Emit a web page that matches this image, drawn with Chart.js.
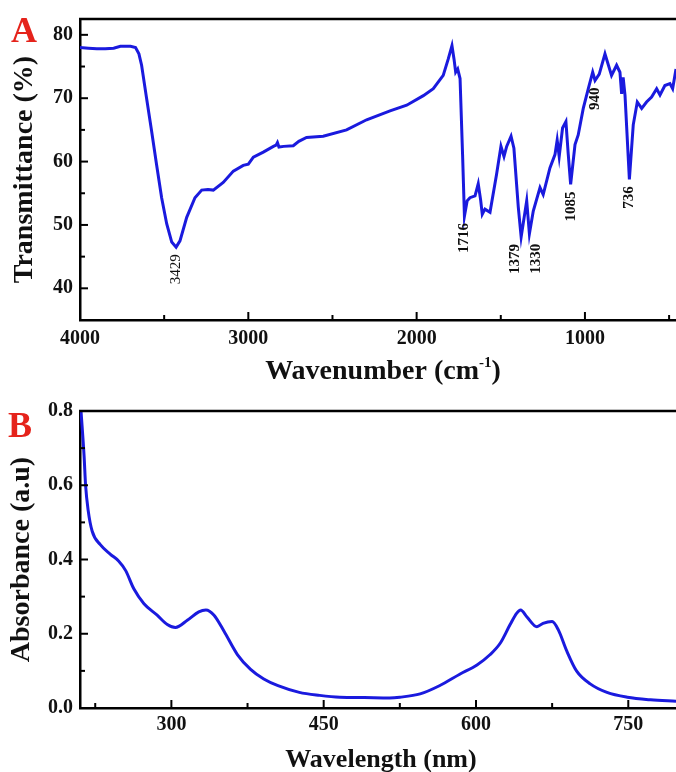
<!DOCTYPE html>
<html>
<head>
<meta charset="utf-8">
<script src="https://cdn.jsdelivr.net/npm/chart.js@4.4.1/dist/chart.umd.min.js"></script>
<style>
  html, body { margin: 0; padding: 0; background: #fff; }
  #wrapA { position: absolute; left: 0; top: 0; width: 676px; height: 392px; }
  #wrapB { position: absolute; left: 0; top: 392px; width: 676px; height: 380px; }
</style>
</head>
<body>
<div id="wrapA"><canvas id="chartA"></canvas></div>
<div id="wrapB"><canvas id="chartB"></canvas></div>
<script>
// ---------- FTIR data (panel A) ----------
const irWavenumber = [
  4000, 3950, 3900, 3850, 3800, 3760, 3700, 3670, 3650, 3634, 3604, 3574, 3545, 3515,
  3485, 3455, 3429, 3406, 3366, 3317, 3277, 3240, 3208, 3149, 3089, 3030, 3000, 2970,
  2911, 2851, 2835, 2827, 2818, 2790, 2733, 2700, 2654, 2555, 2416, 2297, 2158, 2059,
  1960, 1901, 1842, 1812, 1790, 1778, 1768, 1756, 1742, 1727, 1716, 1700, 1683, 1653,
  1634, 1620, 1610, 1594, 1564, 1525, 1499, 1481, 1465, 1439, 1422, 1396, 1379, 1346,
  1330, 1307, 1267, 1248, 1208, 1178, 1165, 1153, 1133, 1113, 1099, 1085, 1059, 1040,
  1010, 980, 954, 940, 915, 881, 842, 812, 792, 782, 773, 762, 736, 713, 689, 663,
  634, 604, 574, 554, 525, 495, 479, 459
];
const irTransmittance = [
  78.0, 77.9, 77.8, 77.8, 77.9, 78.2, 78.2, 78.0, 77.0, 75.2, 69.9, 64.7, 59.5, 54.3,
  50.2, 47.3, 46.5, 47.5, 51.2, 54.3, 55.5, 55.6, 55.5, 56.7, 58.5, 59.4, 59.6, 60.7,
  61.5, 62.4, 62.6, 63.0, 62.3, 62.4, 62.5, 63.2, 63.8, 64.0, 65.0, 66.6, 68.0, 68.9,
  70.4, 71.5, 73.6, 76.2, 78.3, 76.2, 74.1, 74.6, 73.1, 61.1, 51.4, 53.8, 54.3, 54.6,
  56.5, 54.0, 51.7, 52.5, 52.0, 58.0, 62.4, 60.8, 62.4, 64.0, 62.1, 52.8, 48.1, 53.8,
  48.6, 52.2, 55.9, 54.8, 59.0, 61.1, 63.4, 60.8, 65.3, 66.3, 61.1, 56.4, 62.7, 64.2,
  68.4, 71.5, 74.1, 72.8, 73.8, 77.0, 73.6, 75.2, 74.1, 70.7, 73.3, 70.5, 57.2, 65.8,
  69.4, 68.4, 69.4, 70.2, 71.5, 70.5, 72.0, 72.3, 71.5, 74.6
];
const irPeaks = [3429, 1716, 1379, 1330, 1085, 940, 736];
const irXTicks = [1000, 2000, 3000, 4000];
const irXMinor = [500, 1500, 2500, 3500];
const irYTicks = [40, 50, 60, 70, 80];
const irYMinor = [45, 55, 65, 75];

// ---------- UV-Vis data (panel B) ----------
const uvWavelength = [
  210, 211, 214, 215.5, 218, 222, 230, 240, 248, 255, 263, 273, 286, 296, 304, 316,
  327, 334, 342, 352, 365, 378, 391, 405, 426, 446, 466, 490, 515, 525, 545, 564,
  584, 601, 614, 624, 633.5, 640, 644, 650, 660, 666, 675, 681, 689.5, 699, 712.5,
  729, 749, 772, 797
];
const uvAbsorbance = [
  0.84, 0.80, 0.68, 0.60, 0.533, 0.476, 0.440, 0.414, 0.396, 0.370, 0.321, 0.281,
  0.250, 0.225, 0.217, 0.237, 0.259, 0.264, 0.250, 0.206, 0.144, 0.104, 0.078, 0.060,
  0.042, 0.034, 0.029, 0.028, 0.027, 0.029, 0.038, 0.060, 0.091, 0.116, 0.144, 0.175,
  0.224, 0.255, 0.264, 0.246, 0.219, 0.228, 0.233, 0.211, 0.153, 0.100, 0.065, 0.042,
  0.029, 0.022, 0.018
];
const uvXTicks = [300, 450, 600, 750];
const uvXMinor = [225, 375, 525, 675];
const uvYTicks = [0, 0.2, 0.4, 0.6, 0.8];
const uvYMinor = [0.1, 0.3, 0.5, 0.7];

const SERIF = '"Liberation Serif", "Times New Roman", serif';
const LINE_BLUE = '#1a1ade';

// ---------- Plugins ----------
// top border, inward ticks, panel letter and x-axis title
const framePlugin = {
  id: 'frame',
  afterDraw(chart, args, opts) {
    const { ctx, chartArea: a, scales: { x, y } } = chart;
    ctx.save();
    ctx.strokeStyle = '#000';
    ctx.lineWidth = 2.5;
    ctx.beginPath();
    ctx.moveTo(a.left - 1, a.top);
    ctx.lineTo(a.right, a.top);
    ctx.stroke();

    ctx.lineWidth = 2;
    const tickX = (v, len) => {
      const p = x.getPixelForValue(v);
      ctx.beginPath(); ctx.moveTo(p, a.bottom); ctx.lineTo(p, a.bottom - len); ctx.stroke();
    };
    const tickY = (v, len) => {
      const p = y.getPixelForValue(v);
      ctx.beginPath(); ctx.moveTo(a.left, p); ctx.lineTo(a.left + len, p); ctx.stroke();
    };
    x.ticks.forEach(t => tickX(t.value, 8));
    opts.minorX.forEach(v => tickX(v, 5));
    y.ticks.forEach(t => tickY(t.value, 8));
    opts.minorY.forEach(v => tickY(v, 5));

    // panel letter
    ctx.fillStyle = '#e5231b';
    ctx.font = 'bold 36px ' + SERIF;
    ctx.textAlign = 'left';
    ctx.textBaseline = 'alphabetic';
    ctx.fillText(opts.letter, opts.letterX, opts.letterY);

    // x title, possibly with a superscript part
    ctx.fillStyle = '#111';
    let total = 0;
    const parts = opts.xTitle.map(([text, size, raise]) => {
      ctx.font = 'bold ' + size + 'px ' + SERIF;
      const w = ctx.measureText(text).width;
      total += w;
      return { text, size, raise, w };
    });
    let cx = opts.titleX - total / 2;
    parts.forEach(p => {
      ctx.font = 'bold ' + p.size + 'px ' + SERIF;
      ctx.fillText(p.text, cx, opts.titleY - p.raise);
      cx += p.w;
    });
    ctx.restore();
  }
};

// rotated peak labels under the FTIR bands
// small nudges so the close pair 1379 / 1330 does not overlap
const peakNudge = { 1379: [-6, 0], 1330: [7, 3] };

const peakPlugin = {
  id: 'peaks',
  afterDatasetsDraw(chart) {
    const { ctx, scales: { x, y } } = chart;
    ctx.save();
    ctx.fillStyle = '#111';
    ctx.textAlign = 'right';
    ctx.textBaseline = 'middle';
    irPeaks.forEach(wn => {
      const i = irWavenumber.indexOf(wn);
      const [dx, dy] = peakNudge[wn] || [0, 0];
      const px = x.getPixelForValue(wn) + dx;
      const py = y.getPixelForValue(irTransmittance[i]) + 7 + dy;
      ctx.font = (wn === 3429 ? '' : 'bold ') + '15px ' + SERIF;
      ctx.save();
      ctx.translate(px, py);
      ctx.rotate(-Math.PI / 2);
      ctx.fillText(String(wn), 0, 0);
      ctx.restore();
    });
    ctx.restore();
  }
};

// ---------- Chart builder ----------
function buildChart(canvasId, cfg) {
  const tickFont = { family: SERIF, size: 20, weight: 'bold' };
  return new Chart(document.getElementById(canvasId), {
    type: 'line',
    data: {
      datasets: [{
        data: cfg.xs.map((v, i) => ({ x: v, y: cfg.ys[i] })),
        borderColor: LINE_BLUE,
        borderWidth: 3,
        pointRadius: 0,
        fill: false,
        tension: cfg.tension,
        cubicInterpolationMode: cfg.tension ? 'monotone' : 'default'
      }]
    },
    options: {
      responsive: true,
      maintainAspectRatio: false,
      animation: false,
      devicePixelRatio: 1,
      layout: { padding: { top: cfg.padTop, right: 0, left: 0, bottom: 0 } },
      plugins: {
        legend: { display: false },
        tooltip: { enabled: false },
        frame: cfg.frame
      },
      scales: {
        x: {
          type: 'linear',
          reverse: cfg.reverse,
          min: cfg.xMin,
          max: cfg.xMax,
          afterBuildTicks: s => { s.ticks = cfg.xTicks.map(v => ({ value: v })); },
          afterFit: s => { s.height = cfg.xAxisHeight; },
          grid: { display: true, drawOnChartArea: false, drawTicks: false },
          border: { display: true, color: '#000', width: 2.5 },
          ticks: { font: tickFont, color: '#111', padding: cfg.xPad, maxRotation: 0, callback: v => String(v) }
        },
        y: {
          min: cfg.yMin,
          max: cfg.yMax,
          afterBuildTicks: s => { s.ticks = cfg.yTicks.map(v => ({ value: v })); },
          afterFit: s => { s.width = 80; },
          grid: { display: true, drawOnChartArea: false, drawTicks: false },
          border: { display: true, color: '#000', width: 2.5 },
          ticks: { font: tickFont, color: '#111', padding: 7, callback: cfg.yFormat },
          title: {
            display: true,
            text: cfg.yTitle,
            color: '#111',
            font: { family: SERIF, size: 28, weight: 'bold' },
            padding: { top: cfg.yTitlePad, bottom: 0 }
          }
        }
      }
    },
    plugins: cfg.plugins
  });
}

// ---------- Init ----------
buildChart('chartA', {
  xs: irWavenumber, ys: irTransmittance, tension: 0,
  reverse: true, xMin: 459, xMax: 4000, yMin: 35, yMax: 82.5,
  xTicks: irXTicks, yTicks: irYTicks, yFormat: v => String(v),
  padTop: 16, xAxisHeight: 72, xPad: 7, yTitlePad: 8,
  yTitle: 'Transmittance (%)',
  frame: {
    minorX: irXMinor, minorY: irYMinor, letter: 'A', letterX: 11, letterY: 42,
    xTitle: [['Wavenumber (cm', 28, 0], ['-1', 15, 12], [')', 28, 0]],
    titleX: 383, titleY: 379
  },
  plugins: [framePlugin, peakPlugin]
});

buildChart('chartB', {
  xs: uvWavelength, ys: uvAbsorbance, tension: 0.4,
  reverse: false, xMin: 210, xMax: 797, yMin: 0, yMax: 0.8,
  xTicks: uvXTicks, yTicks: uvYTicks, yFormat: v => Number(v).toFixed(1),
  padTop: 14, xAxisHeight: 64, xPad: 5, yTitlePad: 5,
  yTitle: 'Absorbance (a.u)',
  frame: {
    minorX: uvXMinor, minorY: uvYMinor, letter: 'B', letterX: 8, letterY: 45,
    xTitle: [['Wavelength (nm)', 26, 0]],
    titleX: 381, titleY: 375
  },
  plugins: [framePlugin]
});
</script>
</body>
</html>
